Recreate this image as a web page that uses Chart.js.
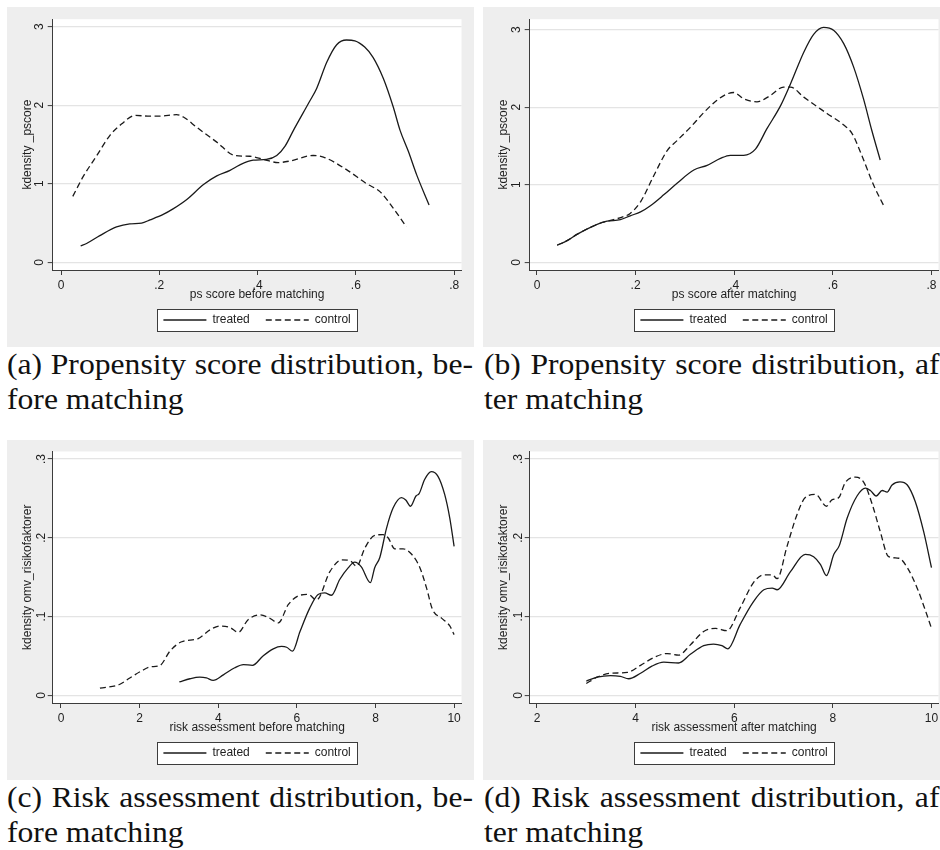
<!DOCTYPE html>
<html lang="en">
<head>
  <meta charset="UTF-8" />
  <title>Propensity score and risk assessment densities</title>
  <script src="https://cdn.jsdelivr.net/npm/chart.js"></script>
  <style>
    html, body { margin: 0; padding: 0; background: #fff; }
    body { position: relative; width: 940px; height: 850px; overflow: hidden; }
    .panel { position: absolute; width: 467px; height: 340px; background: #eeeeee; }
    .panel canvas { position: absolute; left: 0; top: 0; }
    .caption {
      position: absolute; font-family: "Liberation Serif", "Times New Roman", serif;
      font-size: 28.5px; line-height: 35px; white-space: nowrap; color: #111;
      transform-origin: 0 0;
    }
    .caption span { display: inline-block; }
  </style>
</head>
<body>
  <div class="panel" style="left:7px; top:7px"><canvas id="chartA" width="467" height="340"></canvas></div>
  <div class="panel" style="left:483px; top:7px"><canvas id="chartB" width="467" height="340"></canvas></div>
  <div class="panel" style="left:7px; top:440px"><canvas id="chartC" width="467" height="340"></canvas></div>
  <div class="panel" style="left:483px; top:440px"><canvas id="chartD" width="467" height="340"></canvas></div>

  <div class="caption" id="capA" style="left:7px; top:347px"><span class="l1">(a) Propensity score distribution, be-</span><br><span>fore matching</span></div>
  <div class="caption" id="capB" style="left:484px; top:347px"><span class="l1">(b) Propensity score distribution, af-</span><br><span>ter matching</span></div>
  <div class="caption" id="capC" style="left:7px; top:780px"><span class="l1">(c) Risk assessment distribution, be-</span><br><span>fore matching</span></div>
  <div class="caption" id="capD" style="left:484px; top:780px"><span class="l1">(d) Risk assessment distribution, af-</span><br><span>ter matching</span></div>

  <script>
    // ticks
    const psTicks = [0, .2, .4, .6, .8];
    const psTickLabels = ["0", ".2", ".4", ".6", ".8"];
    const psDensTicks = [0, 1, 2, 3];
    const psDensLabels = ["0", "1", "2", "3"];
    const riskTicksBefore = [0, 2, 4, 6, 8, 10];
    const riskLabelsBefore = ["0", "2", "4", "6", "8", "10"];
    const riskTicksAfter = [2, 4, 6, 8, 10];
    const riskLabelsAfter = ["2", "4", "6", "8", "10"];
    const riskDensTicks = [0, .1, .2, .3];
    const riskDensLabels = ["0", ".1", ".2", ".3"];

    // (a) ps score before matching
    const aTreatedX = [0.040, 0.052, 0.079, 0.113, 0.140, 0.164, 0.181, 0.208, 0.228, 0.256, 0.290, 0.317, 0.344, 0.364, 0.391, 0.418, 0.439, 0.456, 0.473, 0.506, 0.520, 0.541, 0.561, 0.581, 0.598, 0.618, 0.635, 0.656, 0.676, 0.690, 0.707, 0.724, 0.749];
    const aTreatedY = [0.21, 0.24, 0.34, 0.45, 0.49, 0.50, 0.54, 0.61, 0.68, 0.80, 0.99, 1.10, 1.17, 1.24, 1.30, 1.31, 1.36, 1.48, 1.68, 2.05, 2.21, 2.55, 2.77, 2.83, 2.82, 2.74, 2.61, 2.34, 1.98, 1.68, 1.41, 1.11, 0.73];
    const aControlX = [0.024, 0.045, 0.073, 0.100, 0.123, 0.151, 0.181, 0.201, 0.235, 0.249, 0.276, 0.317, 0.354, 0.384, 0.412, 0.442, 0.466, 0.513, 0.534, 0.581, 0.622, 0.649, 0.676, 0.703];
    const aControlY = [0.84, 1.09, 1.36, 1.62, 1.76, 1.87, 1.86, 1.86, 1.88, 1.85, 1.72, 1.53, 1.36, 1.35, 1.31, 1.27, 1.29, 1.36, 1.34, 1.18, 1.00, 0.90, 0.69, 0.45];

    // (b) ps score after matching
    const bTreatedX = [0.041, 0.061, 0.081, 0.122, 0.142, 0.169, 0.189, 0.210, 0.230, 0.257, 0.284, 0.318, 0.345, 0.372, 0.392, 0.419, 0.443, 0.466, 0.494, 0.514, 0.541, 0.561, 0.581, 0.602, 0.622, 0.642, 0.662, 0.679, 0.696];
    const bTreatedY = [0.22, 0.28, 0.36, 0.49, 0.53, 0.55, 0.60, 0.65, 0.73, 0.87, 1.02, 1.19, 1.25, 1.34, 1.38, 1.38, 1.46, 1.72, 2.02, 2.30, 2.71, 2.94, 3.03, 2.99, 2.82, 2.52, 2.11, 1.70, 1.32];
    const bControlX = [0.041, 0.061, 0.081, 0.122, 0.142, 0.176, 0.189, 0.210, 0.237, 0.264, 0.284, 0.311, 0.338, 0.365, 0.385, 0.399, 0.419, 0.446, 0.473, 0.500, 0.514, 0.541, 0.588, 0.622, 0.639, 0.656, 0.683, 0.704];
    const bControlY = [0.22, 0.28, 0.36, 0.49, 0.53, 0.59, 0.63, 0.78, 1.12, 1.44, 1.57, 1.74, 1.93, 2.09, 2.17, 2.19, 2.11, 2.07, 2.15, 2.26, 2.26, 2.13, 1.92, 1.77, 1.66, 1.42, 0.99, 0.72];

    // (c) risk assessment before matching
    const cTreatedX = [3.01, 3.28, 3.53, 3.70, 3.87, 4.13, 4.42, 4.64, 4.87, 5.14, 5.40, 5.61, 5.74, 5.89, 6.08, 6.33, 6.54, 6.71, 6.88, 7.09, 7.31, 7.47, 7.64, 7.87, 7.98, 8.11, 8.28, 8.45, 8.66, 8.77, 8.89, 9.03, 9.11, 9.25, 9.42, 9.59, 9.76, 9.89, 10.0];
    const cTreatedY = [0.017, 0.021, 0.023, 0.022, 0.019, 0.026, 0.035, 0.039, 0.038, 0.050, 0.059, 0.062, 0.061, 0.056, 0.081, 0.111, 0.128, 0.130, 0.127, 0.147, 0.162, 0.169, 0.163, 0.143, 0.162, 0.175, 0.212, 0.238, 0.251, 0.248, 0.240, 0.253, 0.256, 0.274, 0.284, 0.278, 0.255, 0.225, 0.189];
    const cControlX = [0.99, 1.50, 1.75, 2.05, 2.26, 2.52, 2.77, 3.07, 3.49, 3.79, 4.04, 4.30, 4.51, 4.76, 5.06, 5.27, 5.53, 5.78, 6.08, 6.29, 6.50, 6.84, 7.14, 7.35, 7.52, 7.73, 7.98, 8.19, 8.32, 8.49, 8.70, 8.92, 9.13, 9.30, 9.45, 9.68, 9.89, 10.0];
    const cControlY = [0.009, 0.014, 0.022, 0.031, 0.036, 0.038, 0.056, 0.068, 0.072, 0.083, 0.088, 0.086, 0.080, 0.096, 0.102, 0.099, 0.092, 0.115, 0.127, 0.128, 0.121, 0.157, 0.172, 0.171, 0.164, 0.187, 0.203, 0.204, 0.200, 0.186, 0.186, 0.179, 0.162, 0.136, 0.109, 0.098, 0.088, 0.077];

    // (d) risk assessment after matching
    const dTreatedX = [3.00, 3.22, 3.49, 3.69, 3.86, 4.10, 4.33, 4.57, 4.87, 5.11, 5.38, 5.58, 5.75, 5.87, 6.12, 6.39, 6.60, 6.77, 6.87, 7.14, 7.44, 7.61, 7.75, 7.87, 8.02, 8.13, 8.29, 8.49, 8.66, 8.76, 8.88, 9.00, 9.10, 9.20, 9.36, 9.51, 9.67, 9.84, 10.0];
    const dTreatedY = [0.018, 0.023, 0.025, 0.024, 0.021, 0.028, 0.037, 0.042, 0.041, 0.052, 0.063, 0.065, 0.063, 0.059, 0.090, 0.119, 0.134, 0.136, 0.134, 0.157, 0.179, 0.176, 0.166, 0.152, 0.179, 0.190, 0.225, 0.253, 0.263, 0.260, 0.253, 0.260, 0.258, 0.267, 0.271, 0.267, 0.246, 0.208, 0.162];
    const dControlX = [3.00, 3.22, 3.49, 3.83, 4.10, 4.37, 4.64, 4.87, 5.11, 5.38, 5.62, 5.85, 6.12, 6.39, 6.60, 6.77, 6.87, 7.07, 7.27, 7.44, 7.65, 7.87, 7.98, 8.12, 8.25, 8.46, 8.63, 8.80, 8.96, 9.13, 9.34, 9.51, 9.71, 9.88, 10.0];
    const dControlY = [0.015, 0.023, 0.028, 0.029, 0.038, 0.048, 0.053, 0.051, 0.064, 0.081, 0.085, 0.082, 0.111, 0.143, 0.153, 0.153, 0.148, 0.189, 0.229, 0.251, 0.255, 0.240, 0.248, 0.251, 0.270, 0.277, 0.270, 0.242, 0.208, 0.176, 0.174, 0.162, 0.136, 0.107, 0.085];

    const INK = "#1a1a1a";
    const AXIS = "#3c3c3c";
    const TEXT = "#1e1e1e";
    const GRID = "#e4e4e4";
    const SANS = "'Liberation Sans', Arial, sans-serif";

    // white plot region + boxed legend, like the Stata graph
    const framePlugin = {
      id: "frames",
      beforeDraw(chart) {
        const { ctx, chartArea: ca } = chart;
        ctx.save();
        ctx.fillStyle = "#fff";
        ctx.fillRect(ca.left, ca.top, ca.right - ca.left, ca.bottom - ca.top);
        const hb = chart.legend && chart.legend.legendHitBoxes;
        if (hb && hb.length) {
          const first = hb[0], last = hb[hb.length - 1];
          const l = Math.round(first.left - 6) + 0.5;
          const r = Math.round(last.left + last.width + 6) + 0.5;
          const t = Math.round(first.top - 5) + 0.5;
          const b = Math.round(first.top + first.height + 5) + 0.5;
          ctx.fillRect(l, t, r - l, b - t);
          ctx.strokeStyle = AXIS;
          ctx.lineWidth = 1;
          ctx.strokeRect(l, t, r - l, b - t);
        }
        ctx.restore();
      }
    };

    // legend items take the dash pattern of their dataset line
    function lineLabels(chart) {
      const items = Chart.defaults.plugins.legend.labels.generateLabels(chart);
      items.forEach((it, i) => {
        const ds = chart.data.datasets[i];
        it.lineDash = ds.borderDash || [];
        it.lineWidth = ds.borderWidth;
        it.strokeStyle = ds.borderColor;
      });
      return items;
    }

    function pts(xs, ys) { return xs.map((x, i) => ({ x: x, y: ys[i] })); }

    function drawPanel(id, o) {
      return new Chart(document.getElementById(id), {
        type: "line",
        data: {
          datasets: [
            { label: "treated", data: pts(o.tx, o.ty), borderColor: INK, backgroundColor: INK, borderWidth: 1.3,
              pointRadius: 0, cubicInterpolationMode: "monotone", fill: false },
            { label: "control", data: pts(o.cx, o.cy), borderColor: INK, backgroundColor: INK, borderWidth: 1.3,
              borderDash: [6, 3.5], pointRadius: 0, cubicInterpolationMode: "monotone", fill: false }
          ]
        },
        options: {
          responsive: false,
          animation: false,
          events: [],
          layout: { padding: { top: 11.5, right: 467 - o.yw - 408.8, bottom: 11, left: 0 } },
          plugins: {
            tooltip: { enabled: false },
            legend: {
              position: "bottom",
              fullSize: false,
              labels: {
                usePointStyle: true, pointStyle: "line", pointStyleWidth: 43, boxHeight: 12,
                padding: 16, color: TEXT, font: { family: SANS, size: 12 },
                generateLabels: lineLabels
              }
            }
          },
          scales: {
            x: {
              type: "linear", min: o.xmin, max: o.xmax,
              afterBuildTicks: s => { s.ticks = o.xticks.map(v => ({ value: v })); },
              afterFit: s => { s.height = 28; },
              ticks: { autoSkip: false, maxRotation: 0, padding: 3, color: TEXT,
                font: { family: SANS, size: 12 }, callback: (v, i) => o.xlabels[i] },
              grid: { drawOnChartArea: false, drawTicks: true, tickLength: 5, tickColor: AXIS, tickWidth: 1 },
              border: { display: true, color: AXIS, width: 1 },
              title: { display: true, text: o.xtitle, color: TEXT, font: { family: SANS, size: 12 },
                padding: { top: 0, bottom: -4.2 } }
            },
            y: {
              type: "linear", min: o.ymin, max: o.ymax,
              afterBuildTicks: s => { s.ticks = o.yticks.map(v => ({ value: v })); },
              afterFit: s => { s.width = o.yw; },
              ticks: { autoSkip: false, minRotation: 90, maxRotation: 90, crossAlign: "center",
                padding: o.ypad, color: TEXT, font: { family: SANS, size: 12 },
                callback: (v, i) => o.ylabels[i] },
              grid: { color: GRID, lineWidth: 1.2, tickLength: 5, tickColor: AXIS, tickWidth: 1 },
              border: { display: true, color: AXIS, width: 1 },
              title: { display: true, text: o.ytitle, color: TEXT, font: { family: SANS, size: 12 },
                padding: { top: 13.5, bottom: 0 } }
            }
          }
        },
        plugins: [framePlugin]
      });
    }

    drawPanel("chartA", {
      tx: aTreatedX, ty: aTreatedY, cx: aControlX, cy: aControlY,
      xmin: -0.0169, xmax: 0.815, ymin: -0.0978, ymax: 3.095, yw: 45.7, ypad: 5,
      xticks: psTicks, xlabels: psTickLabels, yticks: psDensTicks, ylabels: psDensLabels,
      xtitle: "ps score before matching", ytitle: "kdensity _pscore"
    });
    drawPanel("chartB", {
      tx: bTreatedX, ty: bTreatedY, cx: bControlX, cy: bControlY,
      xmin: -0.0148, xmax: 0.8142, ymin: -0.099, ymax: 3.135, yw: 46.7, ypad: 5,
      xticks: psTicks, xlabels: psTickLabels, yticks: psDensTicks, ylabels: psDensLabels,
      xtitle: "ps score after matching", ytitle: "kdensity _pscore"
    });
    drawPanel("chartC", {
      tx: cTreatedX, ty: cTreatedY, cx: cControlX, cy: cControlY,
      xmin: -0.211, xmax: 10.188, ymin: -0.00978, ymax: 0.3095, yw: 45.7, ypad: 1.5,
      xticks: riskTicksBefore, xlabels: riskLabelsBefore, yticks: riskDensTicks, ylabels: riskDensLabels,
      xtitle: "risk assessment before matching", ytitle: "kdensity omv_risikofaktorer"
    });
    drawPanel("chartD", {
      tx: dTreatedX, ty: dTreatedY, cx: dControlX, cy: dControlY,
      xmin: 1.852, xmax: 10.142, ymin: -0.00978, ymax: 0.3095, yw: 46.7, ypad: 1.5,
      xticks: riskTicksAfter, xlabels: riskLabelsAfter, yticks: riskDensTicks, ylabels: riskDensLabels,
      xtitle: "risk assessment after matching", ytitle: "kdensity omv_risikofaktorer"
    });

    // captions: Times is narrower than Computer Modern, stretch a little, then justify line 1
    const CAP_SCALE = 1.11;
    const CAP_WIDTH = 466;
    ["capA", "capB", "capC", "capD"].forEach(id => {
      const el = document.getElementById(id);
      const l1 = el.querySelector(".l1");
      const natural = l1.getBoundingClientRect().width;
      const spaces = (l1.textContent.match(/ /g) || []).length;
      l1.style.wordSpacing = ((CAP_WIDTH / CAP_SCALE - natural) / spaces) + "px";
      el.style.transform = "scaleX(" + CAP_SCALE + ")";
    });
  </script>
</body>
</html>
